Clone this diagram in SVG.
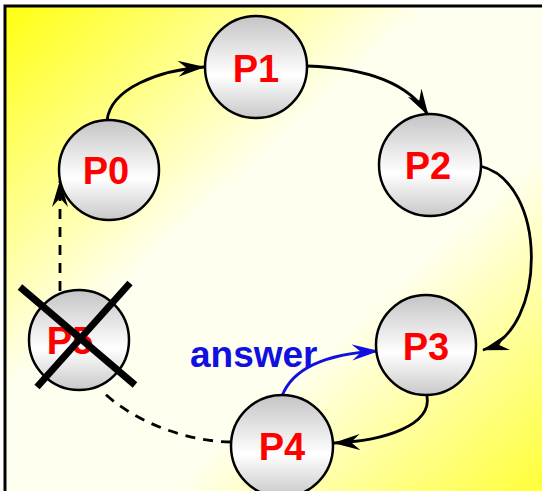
<svg xmlns="http://www.w3.org/2000/svg" width="542" height="491" viewBox="0 0 542 491">
<defs>
<linearGradient id="bg" x1="0" y1="0" x2="1" y2="1">
<stop offset="0" stop-color="#ffff10"/>
<stop offset="0.38" stop-color="#fffff0"/>
<stop offset="0.62" stop-color="#fffff0"/>
<stop offset="1" stop-color="#ffff20"/>
</linearGradient>
<linearGradient id="ball" x1="0" y1="0" x2="0" y2="1">
<stop offset="0" stop-color="#c4c4c4"/>
<stop offset="0.58" stop-color="#ffffff"/>
<stop offset="1" stop-color="#c8c8c8"/>
</linearGradient>
<marker id="ah" markerUnits="userSpaceOnUse" markerWidth="28" markerHeight="18" viewBox="0 -9 28 18" refX="26" refY="0" orient="auto">
<path d="M27,0 L0,-8 L9,0 L0,8 z" fill="#000"/>
</marker>
<marker id="ahb" markerUnits="userSpaceOnUse" markerWidth="28" markerHeight="18" viewBox="0 -9 28 18" refX="26" refY="0" orient="auto">
<path d="M27,0 L0,-8 L9,0 L0,8 z" fill="#1010e0"/>
</marker>
</defs>
<style>
.node circle{fill:url(#ball);stroke:#000;stroke-width:2.5}
.node text{font-family:"Liberation Sans",Arial,sans-serif;font-weight:bold;font-size:38px;fill:#ff0000;text-anchor:middle}
.c{fill:none;stroke:#000;stroke-width:2.8}
.d{stroke-dasharray:10,8}
.lbl{font-family:"Liberation Sans",Arial,sans-serif;font-weight:bold;font-size:37px;fill:#1010e0}
</style>
<rect x="5" y="6" width="560" height="510" fill="url(#bg)" stroke="#000" stroke-width="3"/>
<g id="connectors">
<path class="c" d="M107,121 C110,88 160,70 204,67" marker-end="url(#ah)"/>
<path class="c" d="M307,66 C370,68 410,85 428,115" marker-end="url(#ah)"/>
<path class="c" d="M480,166 C548,182 548,330 483,350" marker-end="url(#ah)"/>
<path class="c" d="M427,396 C432,425 385,441 334,443" marker-end="url(#ah)"/>
<path class="c" d="M282,396 C292,370 322,354 378,351" style="stroke:#1010e0" marker-end="url(#ahb)"/>
<path class="c d" d="M60,291 L60,181" marker-end="url(#ah)"/>
<path class="c d" d="M231,442 C180,441 130,418 103,392"/>
</g>
<g id="P0" class="node"><circle cx="109" cy="170" r="50"/><text x="106" y="184">P0</text></g>
<g id="P1" class="node"><circle cx="256" cy="67" r="51"/><text x="256" y="82">P1</text></g>
<g id="P2" class="node"><circle cx="430" cy="165" r="51"/><text x="428" y="179">P2</text></g>
<g id="P3" class="node"><circle cx="426" cy="345" r="50"/><text x="426" y="360">P3</text></g>
<g id="P4" class="node"><circle cx="282" cy="446" r="51"/><text x="282" y="460">P4</text></g>
<g id="P5" class="node"><circle cx="79" cy="340" r="50"/><text x="70" y="354">P5</text>
<line x1="20" y1="287" x2="135" y2="385" stroke="#000" stroke-width="7"/>
<line x1="130" y1="283" x2="37" y2="387" stroke="#000" stroke-width="7"/>
</g>
<text class="lbl" x="190" y="367">answer</text>
</svg>
